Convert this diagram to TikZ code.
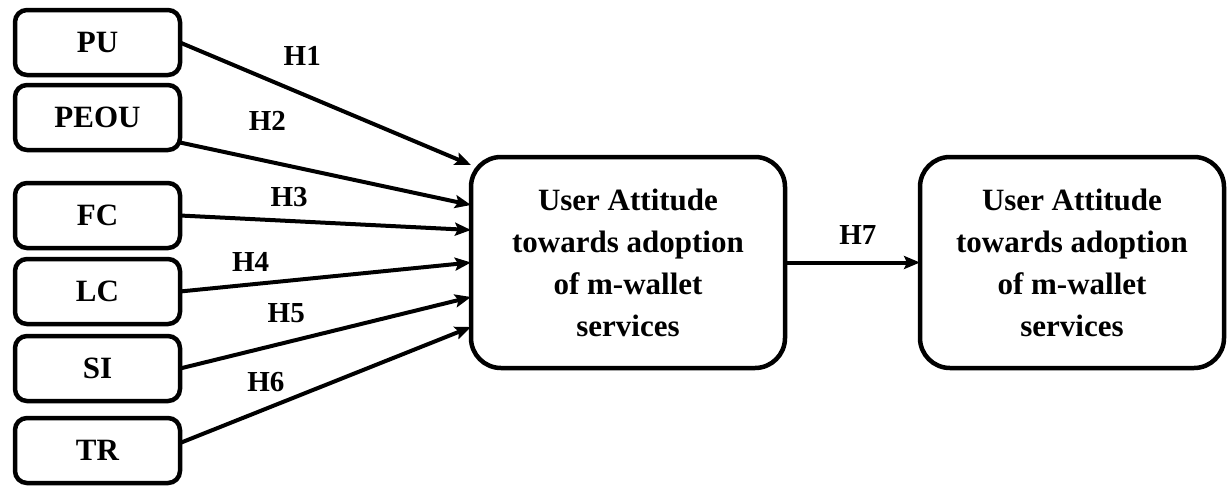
\documentclass[tikz,border=0pt]{standalone}
\usepackage{fontspec}
\setmainfont{Liberation Serif}
\usepackage{tikz}
\usetikzlibrary{arrows.meta, positioning}

\begin{document}
\begin{tikzpicture}[
    x=1pt, y=-1pt,
    node distance=10pt,
    factor/.style={draw, line width=4.5pt, outer sep=0pt, rounded corners=12pt, minimum width=165pt, minimum height=65pt, inner sep=0pt, font=\fontsize{31}{38}\selectfont\bfseries},
    outcome/.style={draw, line width=4.5pt, outer sep=0pt, rounded corners=30pt, minimum height=211pt, inner sep=0pt, align=center, font=\fontsize{31}{42}\selectfont\bfseries},
    arrow/.style={-{Stealth[length=16pt, width=13pt, inset=3pt]}, line width=4pt},
    hyp/.style={font=\fontsize{29}{34}\selectfont\bfseries, inner sep=0pt}
]
    \useasboundingbox (0,0) rectangle (1228,485);

    % Constructs
    \node[factor] (pu) at (97.5,42.5) {PU};
    \node[factor, below=10pt of pu] (peou) {PEOU};
    \node[factor, below=33pt of peou] (fc) {FC};
    \node[factor, below=11pt of fc] (lc) {LC};
    \node[factor, below=12pt of lc] (si) {SI};
    \node[factor, below=17pt of si] (tr) {TR};

    % Attitude and adoption
    \node[outcome, minimum width=314pt] (attitude) at (628,262.5) {User Attitude\\towards adoption\\of m-wallet\\services};
    \node[outcome, minimum width=304pt, right=135pt of attitude] (adoption) {User Attitude\\towards adoption\\of m-wallet\\services};

    % Hypotheses
    \draw[arrow] (pu.east) -- ([yshift=97.5pt]attitude.west) node[hyp, pos=0.42, yshift=38pt] {H1};
    \draw[arrow] ([yshift=-25pt]peou.east) -- ([yshift=57.5pt]attitude.west) node[hyp, pos=0.30, yshift=40pt] {H2};
    \draw[arrow] (fc.east) -- ([yshift=32.5pt]attitude.west) node[hyp, pos=0.375, yshift=24pt] {H3};
    \draw[arrow] (lc.east) -- (attitude.west) node[hyp, pos=0.243, yshift=23pt] {H4};
    \draw[arrow] (si.east) -- ([yshift=-34.5pt]attitude.west) node[hyp, pos=0.365, yshift=29pt] {H5};
    \draw[arrow] ([yshift=7.5pt]tr.east) -- ([yshift=-64.5pt]attitude.west) node[hyp, pos=0.295, yshift=27pt] {H6};
    \draw[arrow] (attitude.east) -- (adoption.west) node[hyp, pos=0.54, yshift=28pt] {H7};
\end{tikzpicture}
\end{document}
